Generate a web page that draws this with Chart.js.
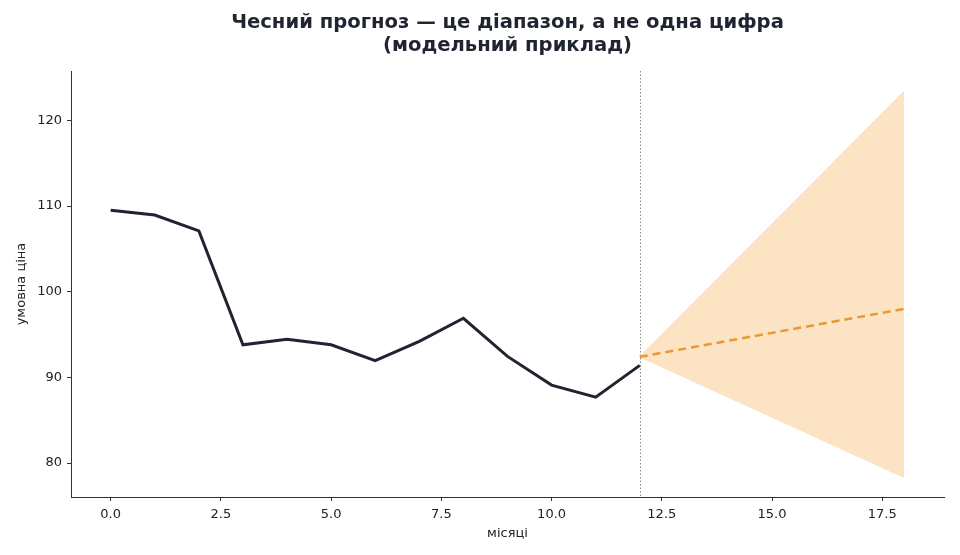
<!DOCTYPE html>
<html>
<head>
<meta charset="utf-8">
<script src="https://cdn.jsdelivr.net/npm/chart.js@4"></script>
<style>
html,body{margin:0;padding:0;background:#fff;}
#wrap{width:960px;height:555px;position:relative;}
</style>
</head>
<body>
<div id="wrap"><canvas id="c" width="960" height="555"></canvas></div>
<script>
const titleLines = ['Чесний прогноз — це діапазон, а не одна цифра', '(модельний приклад)'];
const xTitle = 'місяці';
const yTitle = 'умовна ціна';
const months = [0,1,2,3,4,5,6,7,8,9,10,11,12];
const history = [109.5,108.95,107.1,93.8,94.45,93.8,91.95,94.2,96.9,92.45,89.1,87.7,91.4];
const forecastX = [12,18];
const forecastMid = [92.4,98.0];
const forecastUpper = [92.4,123.4];
const forecastLower = [92.4,78.3];
const forecastStart = 12;
const xTicks = [0,2.5,5,7.5,10,12.5,15,17.5];
const yTicks = [80,90,100,110,120];

const pts = (xs, ys) => xs.map((x,i)=>({x:x,y:ys[i]}));
const FONT = "'DejaVu Sans', sans-serif";
const INK = '#1f2430';

const overlay = {
  id:'overlay',
  beforeDatasetsDraw(chart){
    const {ctx, chartArea, scales} = chart;
    const px = scales.x.getPixelForValue(forecastStart);
    ctx.save();
    ctx.strokeStyle = '#8a8a8a';
    ctx.lineWidth = 1;
    ctx.setLineDash([1.5,2]);
    ctx.beginPath();
    ctx.moveTo(Math.round(px)+0.5, chartArea.top);
    ctx.lineTo(Math.round(px)+0.5, chartArea.bottom);
    ctx.stroke();
    ctx.restore();
  },
  afterDraw(chart){
    const {ctx, chartArea} = chart;
    const cx = (chartArea.left + chartArea.right)/2;
    ctx.save();
    ctx.fillStyle = INK;
    ctx.font = "bold 19.6px " + FONT;
    ctx.textAlign = 'center';
    ctx.textBaseline = 'middle';
    ctx.fillText(titleLines[0], cx, 23);
    ctx.fillText(titleLines[1], cx, 46);
    ctx.restore();
  }
};

new Chart(document.getElementById('c'), {
  type:'line',
  data:{
    datasets:[
      {label:'history', data:pts(months,history), borderColor:INK, borderWidth:3, pointRadius:0, fill:false, tension:0, order:0},
      {label:'forecast', data:pts(forecastX,forecastMid), borderColor:'#eb9830', borderWidth:2.5, borderDash:[8,5], pointRadius:0, fill:false, order:1},
      {label:'upper', data:pts(forecastX,forecastUpper), borderColor:'rgba(246,200,140,0.6)', borderWidth:1, pointRadius:0, fill:'+1', backgroundColor:'#fce3c4', order:2},
      {label:'lower', data:pts(forecastX,forecastLower), borderColor:'rgba(246,200,140,0.6)', borderWidth:1, pointRadius:0, fill:false, order:3}
    ]
  },
  options:{
    responsive:false,
    animation:false,
    layout:{padding:{top:71,left:0,right:16,bottom:0}},
    plugins:{legend:{display:false}, tooltip:{enabled:false}, title:{display:false}},
    scales:{
      x:{
        type:'linear', min:-0.9, max:18.9,
        afterBuildTicks(s){ s.ticks = xTicks.map(v=>({value:v})); },
        afterFit(s){ s.height = 58; },
        grid:{display:true, drawOnChartArea:false, drawTicks:true, tickLength:4, color:'#333'},
        border:{display:true, color:'#333', width:1},
        ticks:{color:'#222', font:{family:FONT, size:13}, padding:6, maxRotation:0, callback:v=>Number(v).toFixed(1)},
        title:{display:true, text:xTitle, color:'#222', font:{family:FONT, size:13}, padding:{top:2,bottom:14}}
      },
      y:{
        type:'linear', min:76.04, max:125.76,
        afterBuildTicks(s){ s.ticks = yTicks.map(v=>({value:v})); },
        afterFit(s){ s.width = 71; },
        grid:{display:true, drawOnChartArea:false, drawTicks:true, tickLength:4, color:'#333'},
        border:{display:true, color:'#333', width:1},
        ticks:{color:'#222', font:{family:FONT, size:13}, padding:5, callback:v=>String(v)},
        title:{display:true, text:yTitle, color:'#222', font:{family:FONT, size:13}, padding:{top:14,bottom:6}}
      }
    }
  },
  plugins:[overlay]
});
</script>
</body>
</html>
